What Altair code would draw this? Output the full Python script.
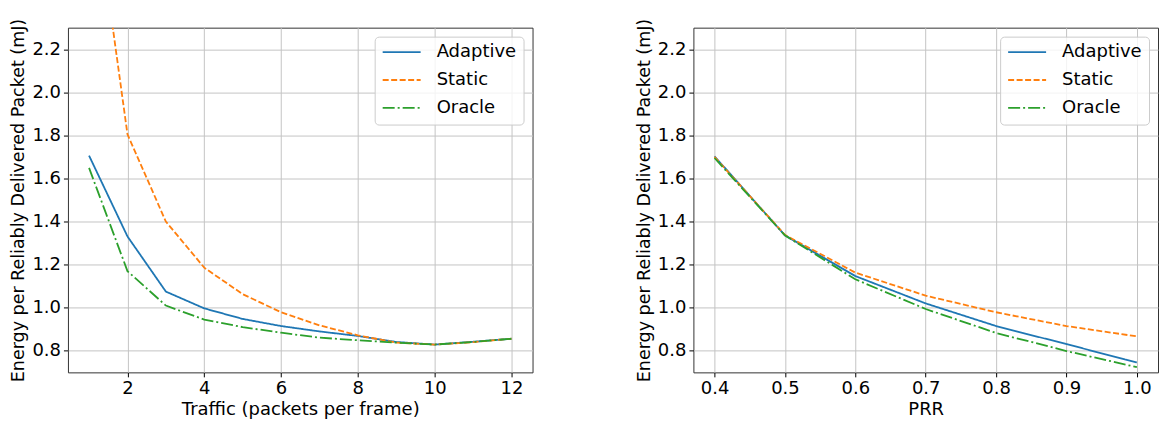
import altair as alt
import pandas as pd

series = ["Adaptive", "Static", "Oracle"]
colors = ["#1f77b4", "#ff7f0e", "#2ca02c"]
dashes = [[1, 0], [6, 2.5], [12, 3, 2, 3]]

# Left panel: traffic
traffic = [1, 2, 3, 4, 5, 6, 7, 8, 9, 10, 11, 12]
adaptive_traffic = [1.706, 1.331, 1.075, 0.997, 0.948, 0.915, 0.890, 0.869, 0.841, 0.829, 0.842, 0.856]
static_traffic = [3.10, 1.805, 1.400, 1.186, 1.063, 0.979, 0.918, 0.872, 0.838, 0.829, 0.840, 0.856]
oracle_traffic = [1.649, 1.170, 1.010, 0.945, 0.910, 0.884, 0.861, 0.849, 0.838, 0.829, 0.841, 0.856]
traffic_ticks = [2, 4, 6, 8, 10, 12]

# Right panel: PRR
prr = [0.4, 0.5, 0.6, 0.7, 0.8, 0.9, 1.0]
adaptive_prr = [1.703, 1.336, 1.147, 1.020, 0.915, 0.831, 0.746]
static_prr = [1.700, 1.338, 1.163, 1.056, 0.979, 0.915, 0.867]
oracle_prr = [1.695, 1.336, 1.132, 0.994, 0.883, 0.799, 0.724]
prr_ticks = [0.4, 0.5, 0.6, 0.7, 0.8, 0.9, 1.0]

y_ticks = [0.8, 1.0, 1.2, 1.4, 1.6, 1.8, 2.0, 2.2]
y_title = "Energy per Reliably Delivered Packet (mJ)"
FONT = "DejaVu Sans"
FS = 18


def panel(xs, ys, xtitle, xdomain, xticks, xfmt):
    rows = []
    for order, (name, vals) in enumerate(zip(series, ys)):
        for xv, yv in zip(xs, vals):
            rows.append({"x": xv, "y": yv, "series": name, "o": order})
    df = pd.DataFrame(rows)
    legend = alt.Legend(
        title=None, orient="top-right", offset=9, padding=7,
        fillColor="rgba(255,255,255,0.8)", strokeColor="#cccccc", cornerRadius=4,
        labelFont=FONT, labelFontSize=FS, labelColor="black", labelOffset=15,
        symbolType="stroke", symbolSize=1444, symbolStrokeWidth=1.8,
        clipHeight=17, rowPadding=8.9, labelLimit=300,
    )
    return alt.Chart(df).mark_line(strokeWidth=1.8, clip=True).encode(
        x=alt.X("x:Q", scale=alt.Scale(domain=xdomain, nice=False, zero=False),
                axis=alt.Axis(values=xticks, format=xfmt, title=xtitle)),
        y=alt.Y("y:Q", scale=alt.Scale(domain=[0.7, 2.3], nice=False, zero=False),
                axis=alt.Axis(values=y_ticks, format=".1f", title=y_title, titleFontSize=17.5)),
        color=alt.Color("series:N", scale=alt.Scale(domain=series, range=colors), legend=legend),
        strokeDash=alt.StrokeDash("series:N", scale=alt.Scale(domain=series, range=dashes), legend=legend),
        detail="series:N",
        order="o:Q",
    ).properties(width=465, height=345)


left = panel(traffic, [adaptive_traffic, static_traffic, oracle_traffic],
             "Traffic (packets per frame)", [0.45, 12.55], traffic_ticks, "d")
right = panel(prr, [adaptive_prr, static_prr, oracle_prr],
              "PRR", [0.37, 1.03], prr_ticks, ".1f")

chart = alt.hconcat(left, right, spacing=161, bounds="flush").resolve_scale(
    color="independent", strokeDash="independent"
).properties(
    padding={"left": 1, "top": 9.5, "right": 0, "bottom": 0}
).configure_axis(
    labelFont=FONT, labelFontSize=FS, labelColor="black",
    titleFont=FONT, titleFontSize=FS, titleFontWeight="normal", titleColor="black",
    tickColor="black", tickSize=4.5, tickWidth=1, labelPadding=3,
    domain=False, gridColor="#c4c4c4", gridWidth=1,
).configure_axisX(titlePadding=3, labelPadding=2.5).configure_axisY(titlePadding=4).configure_view(
    stroke="#333333", strokeWidth=1
)

chart.save("out.html", embed_options={"renderer": "svg", "actions": False})
